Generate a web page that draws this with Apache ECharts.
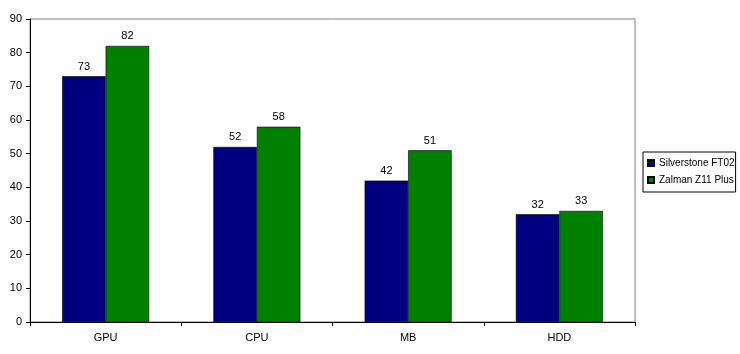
<!DOCTYPE html>
<html>
<head>
<meta charset="utf-8">
<script src="https://cdn.jsdelivr.net/npm/echarts@6/dist/echarts.min.js"></script>
<style>
  html, body { margin: 0; padding: 0; background: #fff; }
  #chart { width: 740px; height: 354px; }
</style>
</head>
<body>
<div id="chart"></div>
<script>
// data
var categories = ['GPU', 'CPU', 'MB', 'HDD'];
var silverstone = [73, 52, 42, 32];
var zalman = [82, 58, 51, 33];
var seriesNames = ['Silverstone FT02', 'Zalman Z11 Plus'];

var chart = echarts.init(document.getElementById('chart'));

var font = 'Arial, "Liberation Sans", sans-serif';

function barSeries(name, data, color) {
    return {
        name: name,
        type: 'bar',
        data: data,
        barWidth: 43.5,
        barGap: '0%',
        itemStyle: { color: color, borderColor: '#000', borderWidth: 0.6 },
        label: {
            show: true,
            position: 'top',
            distance: 4,
            color: '#000',
            fontFamily: font,
            fontSize: 11
        }
    };
}

var option = {
    backgroundColor: '#fff',
    animation: false,
    grid: {
        left: 30, right: 105, top: 19, bottom: 32,
        show: true,
        borderColor: '#808080',
        borderWidth: 1
    },
    legend: {
        orient: 'vertical',
        left: 643,
        top: 152,
        padding: [5, 1, 6, 4],
        borderColor: '#000',
        borderWidth: 1,
        itemWidth: 6,
        itemHeight: 6,
        itemGap: 5,
        icon: 'rect',
        textStyle: { fontFamily: font, fontSize: 10, lineHeight: 12, color: '#000' },
        data: seriesNames
    },
    xAxis: {
        type: 'category',
        data: categories,
        axisLine: { lineStyle: { color: '#000', width: 1 } },
        axisTick: { show: true, length: 4, lineStyle: { color: '#000' } },
        axisLabel: { color: '#000', fontFamily: font, fontSize: 11, margin: 10 },
        splitLine: { show: false }
    },
    yAxis: {
        type: 'value',
        min: 0,
        max: 90,
        interval: 10,
        axisLine: { show: true, lineStyle: { color: '#000', width: 1 } },
        axisTick: { show: true, length: 4, lineStyle: { color: '#000' } },
        axisLabel: { color: '#000', fontFamily: font, fontSize: 11, margin: 8 },
        splitLine: { show: false }
    },
    series: [
        barSeries(seriesNames[0], silverstone, '#000080'),
        barSeries(seriesNames[1], zalman, '#008000')
    ]
};

chart.setOption(option);
</script>
</body>
</html>
